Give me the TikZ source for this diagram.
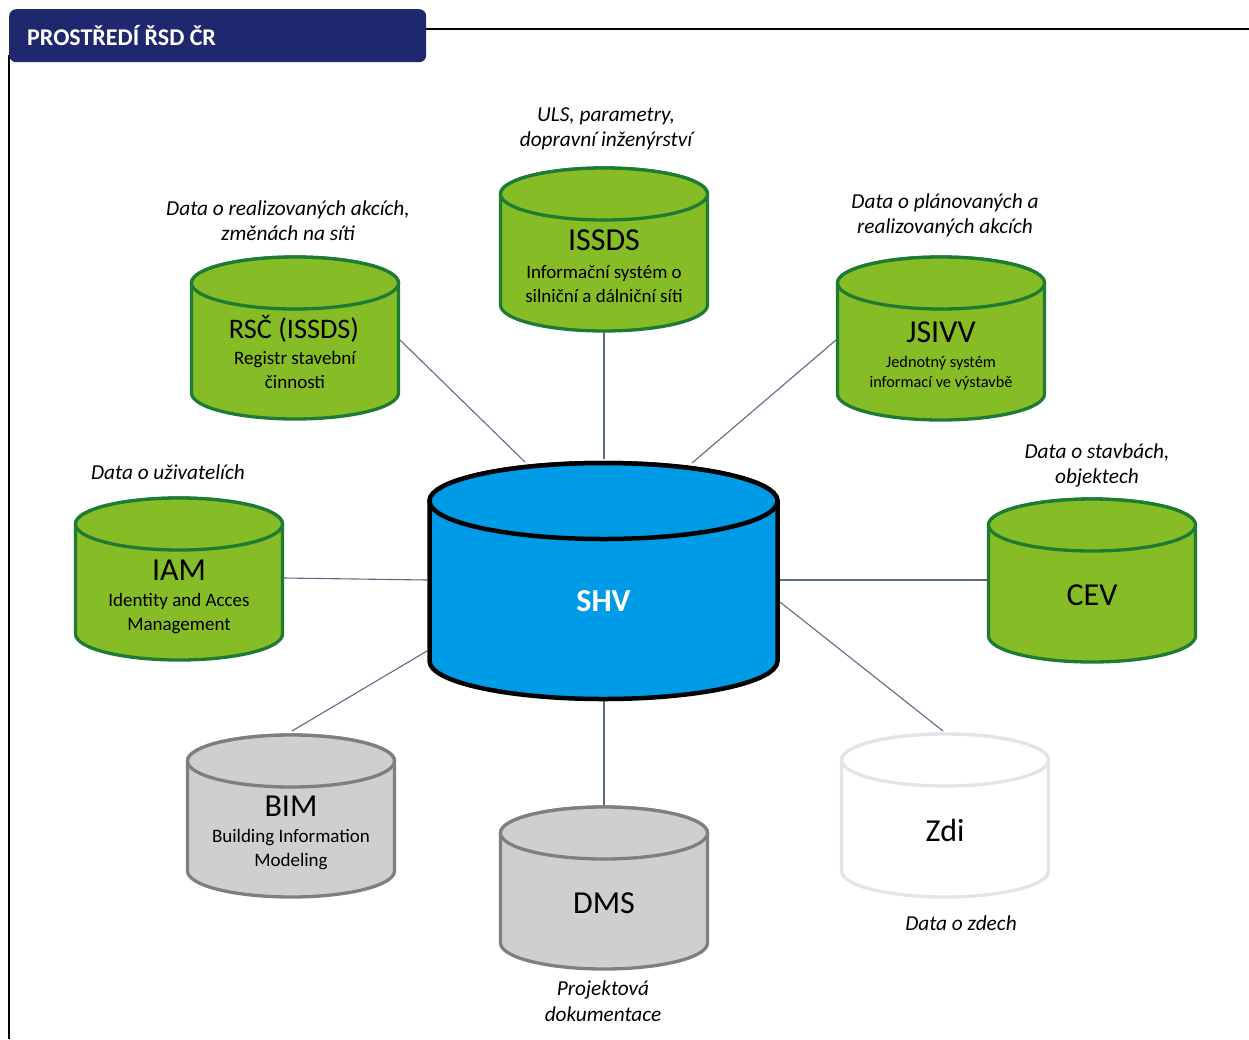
\documentclass[tikz,border=0pt]{standalone}
\usepackage{fontspec}
\setmainfont{Carlito}
\definecolor{navy}{HTML}{1F286F}
\definecolor{gfill}{HTML}{86BC25}
\definecolor{gdraw}{HTML}{1E7B34}
\definecolor{grfill}{HTML}{D0CECE}
\definecolor{grdraw}{HTML}{7F7F7F}
\definecolor{zdraw}{HTML}{E4E4E4}
\definecolor{shvfill}{HTML}{009BE6}
\definecolor{conn}{HTML}{5B6B84}
\newcommand\cylshape[6]{%
  \path[#6] (#1-#4,#2) -- (#1-#4,#3) arc[start angle=180,end angle=360,x radius=#4pt,y radius=#5pt]
     -- (#1+#4,#2) arc[start angle=0,end angle=180,x radius=#4pt,y radius=#5pt] -- cycle;
  \path[#6] (#1,#2) ellipse[x radius=#4pt, y radius=#5pt];}
\tikzset{
  greencyl/.style={fill=gfill, draw=gdraw, line width=3.3pt},
  graycyl/.style={fill=grfill, draw=grdraw, line width=3.3pt},
  whitecyl/.style={fill=white, draw=zdraw, line width=3.3pt},
  shvcyl/.style={fill=shvfill, draw=black, line width=4.5pt},
  title/.style={font=\fontsize{32}{34}\selectfont, inner sep=0pt},
  sub/.style={font=\fontsize{19}{24}\selectfont, align=center, inner sep=0pt},
  small/.style={font=\fontsize{16.3}{20}\selectfont, align=center, inner sep=0pt},
  lab/.style={font=\fontsize{21.3}{25.5}\selectfont\itshape, align=center, inner sep=0pt},
  link/.style={draw=conn, line width=1.1pt},
}
\begin{document}
\begin{tikzpicture}[x=1pt,y=-1pt]
\useasboundingbox (0,0) rectangle (1249,1039);
% frame
\draw[line width=1.5pt] (426,29) -- (1249,29);
\draw[line width=1.5pt] (9,55) -- (9,1039);
\node[fill=navy, rounded corners=7pt, minimum width=417pt, minimum height=53pt, inner sep=0pt, anchor=north west] (hdr) at (9,9) {};
\node[anchor=west, text=white, font=\fontsize{24}{26}\selectfont\bfseries, inner sep=0pt] (hdrtext) at (27,36) {PROSTŘEDÍ ŘSD ČR};

% connector end points
\coordinate (rscE) at (400,340); \coordinate (shvA) at (525,462);
\coordinate (issE) at (604,332); \coordinate (shvB) at (604,459);
\coordinate (jsiE) at (836,340); \coordinate (shvC) at (692,463);
\coordinate (iamE) at (284,578); \coordinate (shvD) at (427,580);
\coordinate (cevE) at (987,580); \coordinate (shvE) at (780,580);
\coordinate (bimE) at (292,731); \coordinate (shvF) at (427,651);
\coordinate (dmsE) at (604,806); \coordinate (shvG) at (604,701);
\coordinate (zdiE) at (943,731); \coordinate (shvH) at (780,602);
\draw[link] (rscE) -- (shvA);
\draw[link] (issE) -- (shvB);
\draw[link] (jsiE) -- (shvC);
\draw[link] (iamE) -- (shvD);
\draw[link] (cevE) -- (shvE);
\draw[link] (bimE) -- (shvF);
\draw[link] (dmsE) -- (shvG);
\draw[link] (zdiE) -- (shvH);

% cylinders
\cylshape{295}{283}{393}{103.5}{26}{greencyl}
\cylshape{604}{194}{305}{103.5}{26}{greencyl}
\cylshape{941}{283}{394}{103.5}{26}{greencyl}
\cylshape{179}{524}{634}{103.5}{26}{greencyl}
\cylshape{1092}{525}{636}{103.5}{26}{greencyl}
\cylshape{291}{761}{871}{103.5}{26}{graycyl}
\cylshape{604}{833}{943}{103.5}{26}{graycyl}
\cylshape{945}{760}{871}{103.5}{26}{whitecyl}
\cylshape{603.5}{501}{661}{174}{38}{shvcyl}

% texts in cylinders
\node[title, font=\fontsize{28.3}{30}\selectfont] (rsc) at (294,329) {RSČ (ISSDS)};
\node[sub] (rscsub) at (295,370) {Registr stavební\\činnosti};
\node[title] (iss) at (604,240) {ISSDS};
\node[sub] (isssub) at (604,284) {Informační systém o\\silniční a dálniční síti};
\node[title] (jsi) at (941,332) {JSIVV};
\node[small] (jsisub) at (941,373) {Jednotný systém\\informací ve výstavbě};
\node[title] (iam) at (179,570) {IAM};
\node[sub] (iamsub) at (179,614) {Identity and Acces\\Management};
\node[title] (cev) at (1092,595) {CEV};
\node[title] (bim) at (291,806) {BIM};
\node[sub] (bimsub) at (291,850) {Building Information\\Modeling};
\node[title] (dms) at (604,903) {DMS};
\node[title] (zdi) at (945,830) {Zdi};
\node[font=\fontsize{32}{34}\selectfont\bfseries, text=white, inner sep=0pt] (shv) at (603.5,601) {SHV};

% labels
\node[lab] (l1) at (606,129) {ULS, parametry,\\dopravní inženýrství};
\node[lab] (l2) at (288,220.5) {Data o realizovaných akcích,\\změnách na síti};
\node[lab] (l3) at (945,215.5) {Data o plánovaných a\\realizovaných akcích};
\node[lab] (l4) at (168,472) {Data o uživatelích};
\node[lab] (l5) at (1097,465.5) {Data o stavbách,\\objektech};
\node[lab] (l6) at (961,923) {Data o zdech};
\node[lab] (l7) at (603,1001) {Projektová\\dokumentace};
\end{tikzpicture}
\end{document}
